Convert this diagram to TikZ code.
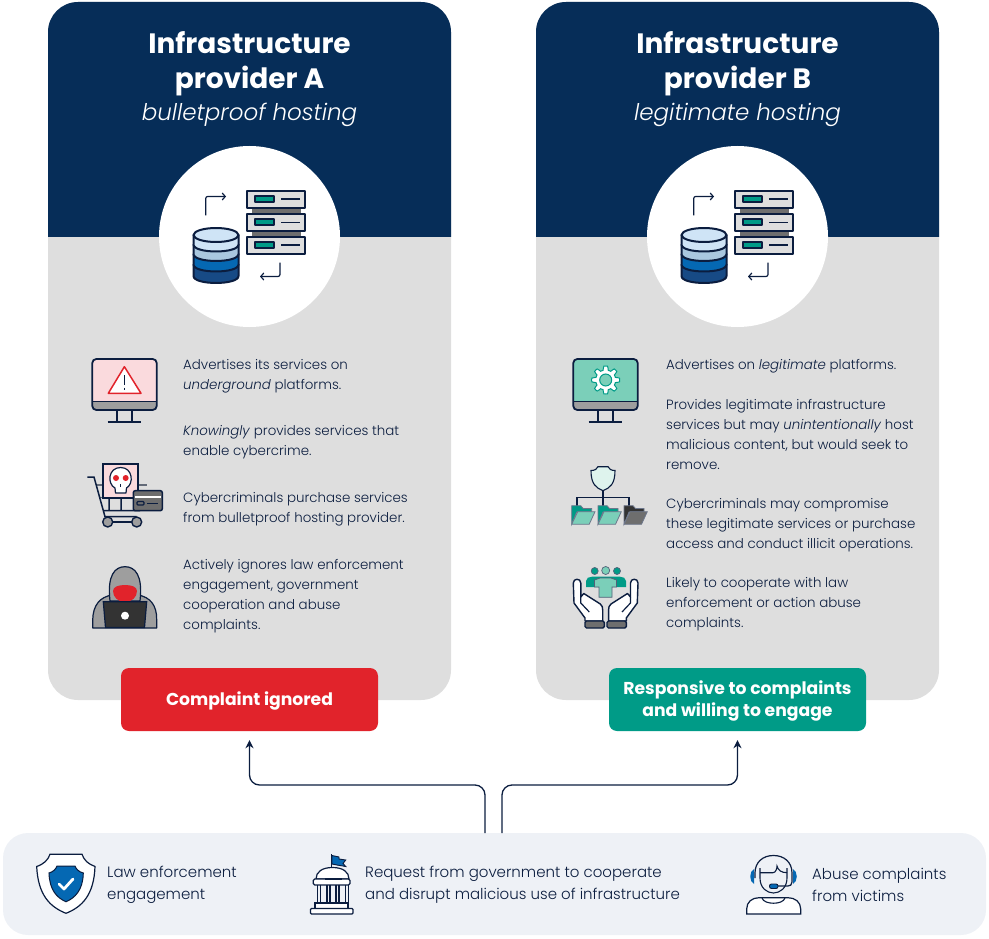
\documentclass[tikz,border=0pt]{standalone}
\usepackage{fontspec}
\setmainfont{Poppins}[UprightFont=* Light, ItalicFont=* Light Italic, BoldFont=* Bold, BoldItalicFont=* Bold Italic]
\usetikzlibrary{arrows.meta, positioning}

\definecolor{navy}{HTML}{062D58}
\definecolor{ink}{HTML}{0B1D3F}
\definecolor{panelgray}{HTML}{DEDEDE}
\definecolor{bandblue}{HTML}{EEF1F6}
\definecolor{alarm}{HTML}{E1232B}
\definecolor{teal}{HTML}{009B87}
\definecolor{mint}{HTML}{7BCFB9}
\definecolor{blush}{HTML}{FADADD}
\definecolor{midgray}{HTML}{9E9E9E}
\definecolor{darkgray}{HTML}{6E6E6E}
\definecolor{royal}{HTML}{0568B3}
\definecolor{deepblue}{HTML}{174A85}
\definecolor{paleblue}{HTML}{A9C7DF}
\definecolor{iceblue}{HTML}{CFE4F6}

\begin{document}
\begin{tikzpicture}[
        x=1pt, y=-1pt,
        panel/.style={rectangle, fill=panelgray, rounded corners=30pt, minimum width=403pt, minimum height=698pt, inner sep=0pt},
        badge/.style={rectangle, rounded corners=8pt, minimum width=257pt, minimum height=63pt, inner sep=0pt, align=center,
                      text=white, font=\fontsize{17.2}{22}\selectfont\bfseries},
        title/.style={text=white, align=center, inner sep=0pt, font=\fontsize{28}{35}\selectfont\bfseries},
        subtitle/.style={text=white, inner sep=0pt, font=\fontsize{23}{28}\selectfont\itshape},
        body/.style={anchor=west, align=left, inner sep=0pt, text=ink, font=\fontsize{13.4}{20}\selectfont},
        source/.style={anchor=west, align=left, inner sep=0pt, text=ink, font=\fontsize{15}{22.5}\selectfont},
        arrow/.style={-{Stealth[length=8pt, width=8pt]}, ink, line width=1.3pt, rounded corners=10pt, shorten >=9pt},
        icon/.style={draw=ink, line width=2pt, line join=round},
        turn/.style={-{Straight Barb[length=3pt, width=7pt]}, ink, line width=1.2pt, rounded corners=2pt},
        stack/.pic={
          % cylinder layers, bottom first
          \filldraw[icon, fill=deepblue] (-56,28) -- (-56,39.5) .. controls (-56,48.8) and (-11,48.8) .. (-11,39.5) -- (-11,28) -- cycle;
          \filldraw[icon, fill=royal] (-56,17.5) -- (-56,28) .. controls (-56,37.3) and (-11,37.3) .. (-11,28) -- (-11,17.5) -- cycle;
          \filldraw[icon, fill=paleblue] (-56,8) -- (-56,17.5) .. controls (-56,26.8) and (-11,26.8) .. (-11,17.5) -- (-11,8) -- cycle;
          \filldraw[icon, fill=iceblue] (-56,-1.5) -- (-56,8) .. controls (-56,17.3) and (-11,17.3) .. (-11,8) -- (-11,-1.5) -- cycle;
          \filldraw[icon, fill=iceblue] (-33.5,-1.5) ellipse[x radius=22.5pt, y radius=7pt];
          % server units
          \fill[darkgray] (2.5,-29) rectangle (51.5,-22);
          \fill[darkgray] (2.5,-5) rectangle (51.5,0);
          \foreach \y in {-45.8, -22.5, 0.2} {
            \filldraw[icon, fill=panelgray] (-2.8,\y) rectangle (55.5,\y+17.5);
            \filldraw[icon, fill=teal] (5.8,\y+5) rectangle (24.5,\y+11.5);
            \draw[ink, line width=1.4pt] (31.5,\y+8.5) -- (50.5,\y+8.5);
          }
          \draw[turn] (-43.8,-21) -- (-43.8,-40) -- (-23.5,-40);
          \draw[turn] (30.5,26) -- (30.5,40) -- (10.5,40);
        },
        pics/monitor/.style={code={
          \draw[ink, line width=1.8pt] (24.4,51) -- (24.4,62.7) (40,51) -- (40,62.7) (15.4,62.7) -- (48.7,62.7);
          \fill[#1, rounded corners=4pt] (0,0) rectangle (64.4,51);
          \fill[midgray] (0,42) -- (64.4,42) -- (64.4,47) .. controls (64.4,49.5) and (62.5,51) .. (60.4,51) -- (4,51) .. controls (1.9,51) and (0,49.5) .. (0,47) -- cycle;
          \draw[ink, line width=1pt] (0,42) -- (64.4,42);
          \draw[draw=ink, line width=1.8pt, rounded corners=4pt] (0,0) rectangle (64.4,51);
        }},
        palm/.pic={
          \filldraw[icon, line width=1.4pt, fill=white] (0,5) .. controls (0,0) and (7.5,0) .. (7.5,5) -- (7.5,19) -- (10.5,15.5) -- (27,26) .. controls (29,28) and (29.4,29) .. (29.4,32) -- (29.4,43) -- (11.7,43) -- (11.7,40) -- (.7,25) -- cycle;
          \draw[ink, line width=1.2pt] (7.5,19) -- (7.5,25) -- (16,34);
          \filldraw[icon, line width=1.4pt, fill=darkgray, rounded corners=1.5pt] (11.7,43) rectangle (31,50);
        }
      ]
      \useasboundingbox (0,0) rectangle (989,939);

      % Panels
      \node (panelA) [panel] at (249.5,351) {};
      \node (panelB) [panel] at (737.5,351) {};
      \fill[navy] (48,237) -- (48,32) .. controls (48,15.4) and (61.4,2) .. (78,2) -- (421,2) .. controls (437.6,2) and (451,15.4) .. (451,32) -- (451,237) -- cycle;
      \fill[navy] (536,237) -- (536,32) .. controls (536,15.4) and (549.4,2) .. (566,2) -- (909,2) .. controls (925.6,2) and (939,15.4) .. (939,32) -- (939,237) -- cycle;

      % Headers
      \node (titleA) [title] at (249.5,63.5) {Infrastructure\\provider A};
      \node (subA) [subtitle] at (249.5,114.5) {bulletproof hosting};
      \node (titleB) [title] at (737.5,63.5) {Infrastructure\\provider B};
      \node (subB) [subtitle] at (737.5,114.5) {legitimate hosting};

      \node (discA) [circle, fill=white, minimum size=181pt, inner sep=0pt] at (249.5,236.5) {};
      \node (discB) [circle, fill=white, minimum size=181pt, inner sep=0pt] at (737.5,236.5) {};
      \pic at (249.5,236.5) {stack};
      \pic at (737.5,236.5) {stack};

      % Text column A
      \node (adA) [body] at (183,376) {Advertises its services on\\\textit{underground} platforms.};
      \node (knowA) [body] at (183,442) {\textit{Knowingly} provides services that\\enable cybercrime.};
      \node (buyA) [body] at (183,509) {Cybercriminals purchase services\\from bulletproof hosting provider.};
      \node (lawA) [body] at (183,596) {Actively ignores law enforcement\\engagement, government\\cooperation and abuse\\complaints.};

      % Text column B
      \node (adB) [body] at (666,366) {Advertises on \textit{legitimate} platforms.};
      \node (hostB) [body] at (666,434) {Provides legitimate infrastructure\\services but may \textit{unintentionally} host\\malicious content, but would seek to\\remove.};
      \node (buyB) [body] at (666,525) {Cybercriminals may compromise\\these legitimate services or purchase\\access and conduct illicit operations.};
      \node (lawB) [body] at (666,604.5) {Likely to cooperate with law\\enforcement or action abuse\\complaints.};

      % Warning monitor
      \pic at (92.3,359) {monitor=blush};
      \filldraw[draw=alarm, line width=1.5pt, fill=white, line join=round] (124.4,366.7) -- (141,393.3) -- (108.3,393.3) -- cycle;
      \draw[ink, line width=1.8pt] (124.4,375) -- (124.4,385) (124.4,387.5) -- (124.4,390);

      % Cart
      \draw[midgray!60!ink, line width=1.2pt] (97,485) -- (146.7,485) (100,497.5) -- (146,497.5);
      \draw[ink, line width=1.5pt] (87.3,477) -- (94,477) -- (105,516.7) -- (136.7,516.7) (103,510.7) -- (140,510.7) (109,497.7) -- (109,510.7) (121,497.7) -- (121,510.7);
      \draw[ink, line width=1.5pt] (107.7,522) -- (136.7,522);
      \filldraw[icon, line width=1.4pt, fill=midgray] (107.7,522) circle[radius=5pt];
      \filldraw[icon, line width=1.4pt, fill=midgray] (136.7,522) circle[radius=5pt];
      \filldraw[draw=ink, line width=2pt, fill=blush] (103.3,464.3) rectangle (138.3,497.7);
      \filldraw[icon, line width=1.2pt, fill=white] (115,488) .. controls (107,484) and (108,467.5) .. (120.7,467.5) .. controls (133,467.5) and (134,484) .. (126.5,488) -- (126,493) -- (115.5,493) -- cycle;
      \fill[alarm] (116,478) circle[radius=3pt];
      \fill[alarm] (125.7,478) circle[radius=3pt];
      \draw[ink, line width=1pt] (120.8,484) -- (120.8,487);
      \filldraw[draw=ink, line width=1.5pt, fill=darkgray, rounded corners=2pt] (133.3,490.7) rectangle (162.3,510.7);
      \fill[white] (134.5,495.5) rectangle (161,498);
      \draw[ink, line width=1.1pt, rounded corners=1pt] (137,501.5) rectangle (144,505);
      \draw[ink, line width=1.1pt] (147,503.5) -- (158,503.5);

      % Hooded figure
      \filldraw[icon, line width=1.2pt, fill=midgray] (92.7,628) -- (92.7,620) .. controls (93,605) and (100,597) .. (112,595) -- (138,595) .. controls (150,597) and (157,605) .. (156.7,620) -- (156.7,628) -- cycle;
      \filldraw[icon, line width=1.2pt, fill=midgray] (110,601) .. controls (107,575) and (115,566.7) .. (125,566.7) .. controls (135,566.7) and (143,575) .. (140,601) -- cycle;
      \fill[alarm] (113,591) .. controls (113,587) and (118,585) .. (125,585) .. controls (132,585) and (137,587) .. (137,591) .. controls (137,597) and (132,602) .. (125,602) .. controls (118,602) and (113,597) .. (113,591) -- cycle;
      \filldraw[draw=ink, line width=1.2pt, fill=black!80] (103.3,601.7) -- (146.7,601.7) -- (144.5,627.5) -- (105.5,627.5) -- cycle;
      \fill[white] (125,615.7) circle[radius=4pt];

      % Gear monitor
      \pic at (573.3,359) {monitor=mint};
      \filldraw[draw=teal, line width=1pt, fill=white] plot[smooth, samples=97, domain=0:360, variable=\t] ({605.7+(12+2*max(-1,min(1,3*cos(8*\t))))*cos(\t)}, {380+(12+2*max(-1,min(1,3*cos(8*\t))))*sin(\t)}) -- cycle;
      \filldraw[draw=teal, line width=1pt, fill=mint] (605.7,380) circle[radius=6pt];

      % Shield over folders
      \draw[ink, line width=1.6pt] (603,490) -- (603,505.7) (576.7,505.7) -- (576.7,497.3) -- (629,497.3) -- (629,505.7);
      \filldraw[draw=ink, line width=1.1pt, fill=mint!25!white] (603,490.7) .. controls (596,488) and (591,484) .. (591,470.5) .. controls (595,470.5) and (597,469) .. (598,466.7) -- (608,466.7) .. controls (609,469) and (611,470.5) .. (615,470.5) .. controls (615,484) and (610,488) .. (603,490.7) -- cycle;
      \foreach \xf/\bg/\fr in {571.7/teal/mint, 598/teal/mint, 624/black!80/darkgray} {
        \filldraw[draw=ink!60, line width=.8pt, fill=\bg] (\xf,524.3) -- (\xf,505.7) -- (\xf+9,505.7) -- (\xf+11.5,508.5) -- (\xf+20,508.5) -- (\xf+20,512) -- (\xf+5,512) -- cycle;
        \filldraw[draw=ink!60, line width=.8pt, fill=\fr] (\xf,524.3) -- (\xf+6,511.7) -- (\xf+23.3,511.7) -- (\xf+17.5,524.3) -- cycle;
      }

      % Team held in hands
      \fill[teal] (586,587) -- (586,581) .. controls (586,578) and (589,576.7) .. (592,576.7) -- (620,576.7) .. controls (623,576.7) and (626,578) .. (626,581) -- (626,587) -- cycle;
      \filldraw[draw=ink!70, line width=.7pt, fill=teal] (594.7,571) circle[radius=3.5pt];
      \filldraw[draw=ink!70, line width=.7pt, fill=mint] (605.7,570.5) circle[radius=4pt];
      \filldraw[draw=ink!70, line width=.7pt, fill=teal] (617,571) circle[radius=3.5pt];
      \filldraw[draw=ink!70, line width=.8pt, fill=mint] (594.5,580) -- (600,578) -- (611,578) -- (616.5,580) -- (616.5,587) -- (612,587) -- (612,597.3) -- (599,597.3) -- (599,587) -- (594.5,587) -- cycle;
      \pic at (573.3,578) {palm};
      \pic[xscale=-1] at (638,578) {palm};

      % Status badges
      \node (ignored) [badge, fill=alarm] at (249.5,699.5) {\raisebox{-1pt}[.9em][.3em]{Complaint ignored}};
      \node (engaged) [badge, fill=teal] at (737.5,699.5) {\raisebox{-1pt}[.9em][.3em]{Responsive to complaints}\\\raisebox{-1pt}[.9em][.3em]{and willing to engage}};

      % Sources band
      \node (band) [rectangle, fill=bandblue, rounded corners=25pt, minimum width=983pt, minimum height=102pt, inner sep=0pt] at (494.5,884) {};
      \coordinate (startA) at (485,833);
      \coordinate (startB) at (502,833);
      \draw [arrow] (startA) -- (485,785) -| (ignored.south);
      \draw [arrow] (startB) -- (502,785) -| (engaged.south);

      \node (police) [source] at (107,885) {Law enforcement\\engagement};
      \node (govt) [source] at (365,885) {Request from government to cooperate\\and disrupt malicious use of infrastructure};
      \node (victims) [source] at (812,885) {Abuse complaints\\from victims};

      % Police shield
      \filldraw[draw=ink, line width=1.2pt, fill=white] (66,913.3) .. controls (50,907) and (38,895) .. (36.7,866.5) .. controls (44,864) and (48,860) .. (50,854.3) -- (82,854.3) .. controls (84,860) and (88,864) .. (95,866.5) .. controls (94,895) and (82,907) .. (66,913.3) -- cycle;
      \filldraw[draw=ink, line width=1pt, fill=royal] (66,901.7) .. controls (57,898) and (49.5,890) .. (49,873) .. controls (53,872) and (56,869) .. (57,866) -- (75,866) .. controls (76,869) and (79,872) .. (83.3,873) .. controls (83,890) and (75,898) .. (66,901.7) -- cycle;
      \draw[white, line width=2.8pt, line cap=round, line join=round] (59,884) -- (64,889) -- (73,879);

      % Government building
      \draw[ink, line width=1.2pt] (331.7,854.3) -- (331.7,868);
      \filldraw[draw=ink, line width=.9pt, fill=royal] (332,855.5) -- (339,857) -- (339,859) -- (345.7,860) -- (343,863.5) -- (345.7,866.5) -- (337,865) -- (332,864) -- cycle;
      \filldraw[draw=ink, line width=1.2pt, fill=white] (316,879) .. controls (316,872) and (322,867.5) .. (332.5,867.5) .. controls (343,867.5) and (349,872) .. (349,879) -- cycle;
      \filldraw[draw=ink, line width=1.2pt, fill=white, rounded corners=1.5pt] (313.3,879) rectangle (350,885);
      \draw[ink, line width=1.2pt] (325,879) -- (342,879);
      \foreach \xc in {317.5, 320.5, 327, 330, 336, 339, 345.5, 348.5}
        \draw[ink, line width=1.1pt] (\xc,885) -- (\xc,903);
      \filldraw[draw=ink, line width=1.2pt, fill=white] (315,903) rectangle (348,908.5);
      \filldraw[draw=ink, line width=1.2pt, fill=white, rounded corners=1pt] (310.5,908.5) rectangle (353,914);
      \draw[ink, line width=1.4pt] (334,908.5) -- (343,908.5);

      % Headset agent
      \filldraw[draw=ink, line width=1.2pt, fill=white] (746.7,914) -- (746.7,909) .. controls (746.7,902) and (752,897.7) .. (759,897.7) -- (788,897.7) .. controls (795,897.7) and (800.7,902) .. (800.7,909) -- (800.7,914) -- cycle;
      \draw[ink, line width=1.1pt] (762,898) .. controls (764,905) and (783,905) .. (785,898);
      \fill[royal] (754,869) .. controls (749,871) and (749,882) .. (754,884) -- cycle;
      \fill[royal] (793,869) .. controls (798,871) and (798,882) .. (793,884) -- cycle;
      \draw[ink, line width=1.1pt] (760,872.7) -- (773,872.7) .. controls (776,872.7) and (777,868) .. (777,866) .. controls (778,870) and (781,872.7) .. (787,872.7);
      \draw[ink, line width=1.1pt] (760,868) -- (760,878) .. controls (760,888) and (767,893) .. (773.5,893) .. controls (780,893) and (787,888) .. (787,878) -- (787,868);
      \draw[ink, line width=1.2pt] (755,878) -- (755,873) .. controls (755,862) and (763,855.5) .. (773.5,855.5) .. controls (784,855.5) and (792,862) .. (792,873) -- (792,882) .. controls (792,885) and (790,886) .. (788,886) -- (778,886);
      \filldraw[draw=ink, line width=.9pt, fill=royal, rounded corners=2pt] (769.5,884) rectangle (778,888.5);
\end{tikzpicture}
\end{document}
